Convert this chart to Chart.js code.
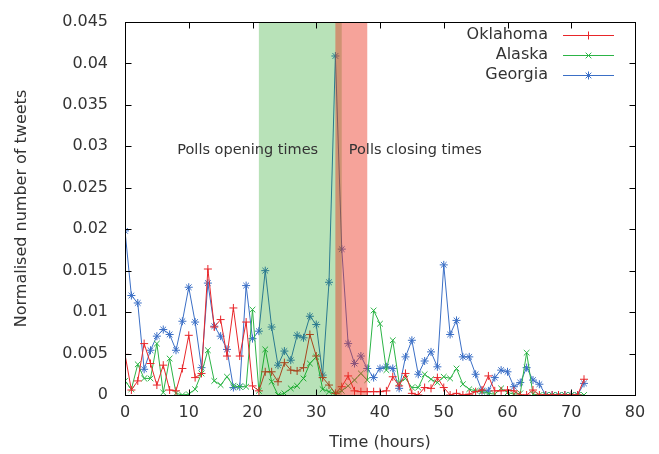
<!DOCTYPE html>
<html>
<head>
<meta charset="utf-8">
<script src="https://cdn.jsdelivr.net/npm/chart.js@4.4.1/dist/chart.umd.min.js"></script>
<style>
  html, body { margin: 0; padding: 0; background: #fff; }
  #wrap { width: 659px; height: 454px; }
</style>
</head>
<body>
<div id="wrap"><canvas id="tweetsChart" width="659" height="454"></canvas></div>
<script>
// hours since start
const hours = [
  0, 1, 2, 3, 4, 5, 6, 7, 8, 9, 10, 11, 12, 13, 14, 15, 16, 17, 18, 19,
  20, 21, 22, 23, 24, 25, 26, 27, 28, 29, 30, 31, 32, 33, 34, 35, 36, 37, 38, 39,
  40, 41, 42, 43, 44, 45, 46, 47, 48, 49, 50, 51, 52, 53, 54, 55, 56, 57, 58, 59,
  60, 61, 62, 63, 64, 65, 66, 67, 68, 69, 70, 71, 72
];

const oklahoma = [
  0.0049, 0.0006, 0.0017, 0.0062, 0.0038, 0.0012, 0.0036, 0.0006, 0.0005, 0.0032,
  0.0072, 0.0021, 0.0026, 0.0152, 0.0082, 0.0091, 0.0047, 0.0105, 0.0047, 0.0088,
  0.0011, 0.0005, 0.0028, 0.0028, 0.0016, 0.0039, 0.0030, 0.0029, 0.0033, 0.0073,
  0.0047, 0.0021, 0.0012, 0.0002, 0.0010, 0.0023, 0.0005, 0.0004, 0.0004, 0.0004,
  0.0004, 0.0005, 0.0022, 0.0011, 0.0026, 0.0002, 0.0000, 0.0009, 0.0008, 0.0021,
  0.0009, 0.0000, 0.0002, 0.0000, 0.0001, 0.0004, 0.0006, 0.0023, 0.0005, 0.0005,
  0.0006, 0.0005, 0.0000, 0.0000, 0.0006, 0.0000, 0.0000, 0.0000, 0.0000, 0.0000,
  0.0000, 0.0000, 0.0019
];

const alaska = [
  0.0017, 0.0007, 0.0037, 0.0020, 0.0020, 0.0062, 0.0003, 0.0044, 0.0002, 0.0000,
  0.0001, 0.0007, 0.0026, 0.0054, 0.0017, 0.0012, 0.0022, 0.0011, 0.0010, 0.0010,
  0.0103, 0.0005, 0.0055, 0.0016, 0.0000, 0.0002, 0.0008, 0.0011, 0.0020, 0.0038,
  0.0046, 0.0007, 0.0004, 0.0002, 0.0005, 0.0011, 0.0018, 0.0026, 0.0018, 0.0102,
  0.0086, 0.0030, 0.0066, 0.0015, 0.0020, 0.0009, 0.0009, 0.0025, 0.0019, 0.0015,
  0.0022, 0.0020, 0.0032, 0.0013, 0.0007, 0.0005, 0.0004, 0.0002, 0.0001, 0.0008,
  0.0003, 0.0001, 0.0002, 0.0051, 0.0001, 0.0000, 0.0000, 0.0000, 0.0000, 0.0000,
  0.0000, 0.0000, 0.0000
];

const georgia = [
  0.0198, 0.0120, 0.0111, 0.0031, 0.0054, 0.0071, 0.0079, 0.0073, 0.0054, 0.0089,
  0.0130, 0.0088, 0.0033, 0.0135, 0.0083, 0.0071, 0.0055, 0.0009, 0.0010, 0.0132,
  0.0068, 0.0077, 0.0150, 0.0082, 0.0036, 0.0053, 0.0042, 0.0072, 0.0069, 0.0095,
  0.0085, 0.0024, 0.0136, 0.0409, 0.0176, 0.0062, 0.0038, 0.0047, 0.0032, 0.0021,
  0.0032, 0.0034, 0.0032, 0.0008, 0.0046, 0.0066, 0.0025, 0.0041, 0.0052, 0.0034,
  0.0157, 0.0073, 0.0090, 0.0046, 0.0046, 0.0025, 0.0005, 0.0005, 0.0021, 0.0030,
  0.0028, 0.0010, 0.0015, 0.0033, 0.0018, 0.0013, 0.0000, 0.0000, 0.0000, 0.0000,
  0.0000, 0.0000, 0.0014
];

// shaded time windows (hours)
const pollsOpen = [21, 34];
const pollsClose = [33, 38];

// annotation text, anchored at [hour, value]
const openLabel = ['Polls opening times', 8.2, 0.0295];
const closeLabel = ['Polls closing times', 35.1, 0.0295];

const xTicks = [0, 10, 20, 30, 40, 50, 60, 70, 80];
const yTicks = [0, 0.005, 0.01, 0.015, 0.02, 0.025, 0.03, 0.035, 0.04, 0.045];

const FONT = 'DejaVu Sans';
const TEXT = '#333';

const toPoints = vals => hours.map((h, i) => ({ x: h, y: vals[i] }));

const series = (label, vals, color, style) => ({
  label,
  data: toPoints(vals),
  borderColor: color,
  backgroundColor: color,
  borderWidth: 1,
  pointStyle: style,
  pointRadius: 4,
  pointBorderWidth: 1,
  pointBorderColor: color,
  tension: 0
});

// shading, labels, box, inward ticks and the legend are drawn by hand
const decor = {
  id: 'decor',
  afterDatasetsDraw(chart) {
    const { ctx, chartArea: a, scales: { x, y } } = chart;
    ctx.save();
    ctx.beginPath();
    ctx.rect(a.left, a.top, a.right - a.left, a.bottom - a.top);
    ctx.clip();
    ctx.fillStyle = 'rgba(0, 150, 0, 0.28)';
    ctx.fillRect(x.getPixelForValue(pollsOpen[0]), a.top,
      x.getPixelForValue(pollsOpen[1]) - x.getPixelForValue(pollsOpen[0]), a.bottom - a.top);
    ctx.fillStyle = 'rgba(235, 50, 30, 0.45)';
    ctx.fillRect(x.getPixelForValue(pollsClose[0]), a.top,
      x.getPixelForValue(pollsClose[1]) - x.getPixelForValue(pollsClose[0]), a.bottom - a.top);
    ctx.restore();

    ctx.save();
    ctx.fillStyle = TEXT;
    ctx.font = '14.5px "' + FONT + '"';
    ctx.textBaseline = 'middle';
    ctx.textAlign = 'left';
    [openLabel, closeLabel].forEach(l => {
      ctx.fillText(l[0], x.getPixelForValue(l[1]), y.getPixelForValue(l[2]));
    });

    // frame
    ctx.strokeStyle = '#000';
    ctx.lineWidth = 1;
    const L = Math.round(a.left) + 0.5, R = Math.round(a.right) + 0.5;
    const T = Math.round(a.top) + 0.5, B = Math.round(a.bottom) + 0.5;
    ctx.strokeRect(L, T, R - L, B - T);
    ctx.beginPath();
    xTicks.forEach(v => {
      const px = Math.round(x.getPixelForValue(v)) + 0.5;
      ctx.moveTo(px, B); ctx.lineTo(px, B - 6);
      ctx.moveTo(px, T); ctx.lineTo(px, T + 6);
    });
    yTicks.forEach(v => {
      const py = Math.round(y.getPixelForValue(v)) + 0.5;
      ctx.moveTo(L, py); ctx.lineTo(L + 6, py);
      ctx.moveTo(R, py); ctx.lineTo(R - 6, py);
    });
    ctx.stroke();

    // legend
    ctx.font = '16px "' + FONT + '"';
    ctx.textAlign = 'right';
    chart.data.datasets.forEach((ds, i) => {
      const ly = 35 + i * 20;
      ctx.fillStyle = TEXT;
      ctx.fillText(ds.label, 548, ly);
      ctx.strokeStyle = ds.borderColor;
      ctx.fillStyle = ds.borderColor;
      ctx.lineWidth = 1.2;
      ctx.beginPath();
      ctx.moveTo(563, ly + 0.5); ctx.lineTo(614, ly + 0.5);
      ctx.stroke();
      ctx.lineWidth = 1;
      Chart.helpers.drawPoint(ctx, { pointStyle: ds.pointStyle, radius: 4, rotation: 0, borderWidth: 1 }, 588.5, ly + 0.5);
    });
    ctx.restore();
  }
};

new Chart(document.getElementById('tweetsChart'), {
  type: 'line',
  data: {
    datasets: [
      series('Oklahoma', oklahoma, '#e8262a', 'cross'),
      series('Alaska', alaska, '#2cb446', 'crossRot'),
      series('Georgia', georgia, '#3b6fc6', 'star')
    ]
  },
  options: {
    responsive: false,
    animation: false,
    devicePixelRatio: 1,
    layout: { padding: { top: 22, right: 24, left: 0, bottom: 0 } },
    plugins: { legend: { display: false }, tooltip: { enabled: false } },
    scales: {
      x: {
        type: 'linear',
        min: 0,
        max: 80,
        afterBuildTicks: s => { s.ticks = xTicks.map(v => ({ value: v })); },
        afterFit: s => { s.height = 59; s.paddingLeft = 0; s.paddingRight = 0; },
        grid: { display: false, drawTicks: false },
        border: { display: false },
        ticks: { font: { family: FONT, size: 16 }, color: TEXT, padding: 8, maxRotation: 0 },
        title: {
          display: true, text: 'Time (hours)', color: TEXT,
          font: { family: FONT, size: 16 }, padding: { top: 0, bottom: 2 }
        }
      },
      y: {
        min: 0,
        max: 0.045,
        afterBuildTicks: s => { s.ticks = yTicks.map(v => ({ value: v })); },
        afterFit: s => { s.width = 125; s.paddingTop = 0; s.paddingBottom = 0; },
        grid: { display: false, drawTicks: false },
        border: { display: false },
        ticks: {
          font: { family: FONT, size: 16 }, color: TEXT, padding: 17,
          callback: v => String(parseFloat(v.toFixed(4)))
        },
        title: {
          display: true, text: 'Normalised number of tweets', color: TEXT,
          font: { family: FONT, size: 16 }, padding: { top: 12, bottom: 0 }
        }
      }
    }
  },
  plugins: [decor]
});
</script>
</body>
</html>
